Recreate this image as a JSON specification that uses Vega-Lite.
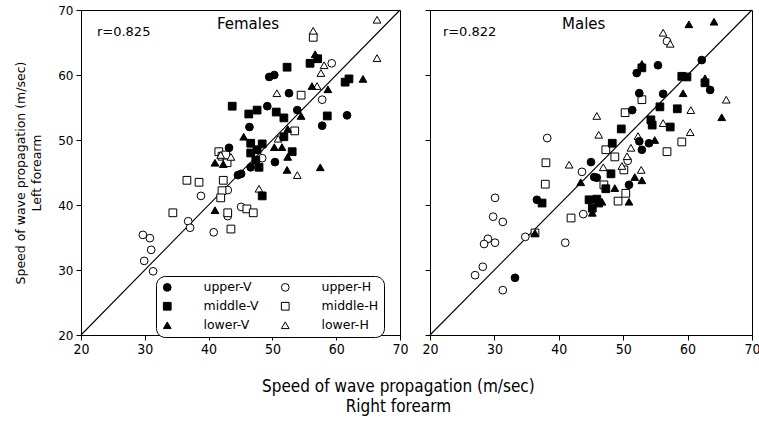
{
  "$schema": "https://vega.github.io/schema/vega-lite/v6.json",
  "background": "white",
  "padding": {"left": 14, "top": 3, "right": 4, "bottom": 4},
  "datasets": {
    "pts": [
      {"sex": "Females", "site": "upper-H", "right": 29.7, "left": 35.4},
      {"sex": "Females", "site": "upper-H", "right": 30.8, "left": 34.9},
      {"sex": "Females", "site": "upper-H", "right": 31.0, "left": 33.1},
      {"sex": "Females", "site": "upper-H", "right": 29.9, "left": 31.4},
      {"sex": "Females", "site": "upper-H", "right": 31.3, "left": 29.8},
      {"sex": "Females", "site": "upper-H", "right": 36.8, "left": 37.5},
      {"sex": "Females", "site": "upper-H", "right": 37.1, "left": 36.5},
      {"sex": "Females", "site": "upper-H", "right": 38.8, "left": 41.4},
      {"sex": "Females", "site": "upper-H", "right": 40.8, "left": 35.8},
      {"sex": "Females", "site": "upper-H", "right": 43.0, "left": 42.3},
      {"sex": "Females", "site": "upper-H", "right": 43.0, "left": 38.3},
      {"sex": "Females", "site": "upper-H", "right": 45.1, "left": 39.7},
      {"sex": "Females", "site": "upper-H", "right": 48.4, "left": 47.2},
      {"sex": "Females", "site": "upper-H", "right": 57.8, "left": 56.2},
      {"sex": "Females", "site": "upper-H", "right": 59.3, "left": 61.8},
      {"sex": "Females", "site": "middle-H", "right": 56.4, "left": 65.8},
      {"sex": "Females", "site": "middle-H", "right": 54.5, "left": 56.9},
      {"sex": "Females", "site": "middle-H", "right": 53.5, "left": 51.4},
      {"sex": "Females", "site": "middle-H", "right": 41.6, "left": 48.2},
      {"sex": "Females", "site": "middle-H", "right": 42.1, "left": 47.5},
      {"sex": "Females", "site": "middle-H", "right": 42.9, "left": 46.5},
      {"sex": "Females", "site": "middle-H", "right": 42.7, "left": 47.7},
      {"sex": "Females", "site": "middle-H", "right": 36.6, "left": 43.8},
      {"sex": "Females", "site": "middle-H", "right": 38.5, "left": 43.5},
      {"sex": "Females", "site": "middle-H", "right": 42.3, "left": 43.8},
      {"sex": "Females", "site": "middle-H", "right": 42.1, "left": 42.2},
      {"sex": "Females", "site": "middle-H", "right": 41.9, "left": 41.1},
      {"sex": "Females", "site": "middle-H", "right": 34.4, "left": 38.8},
      {"sex": "Females", "site": "middle-H", "right": 43.0, "left": 38.8},
      {"sex": "Females", "site": "middle-H", "right": 46.0, "left": 39.4},
      {"sex": "Females", "site": "middle-H", "right": 47.0, "left": 38.8},
      {"sex": "Females", "site": "middle-H", "right": 43.5, "left": 36.3},
      {"sex": "Females", "site": "lower-H", "right": 56.4, "left": 66.8},
      {"sex": "Females", "site": "lower-H", "right": 66.4, "left": 68.5},
      {"sex": "Females", "site": "lower-H", "right": 66.4, "left": 62.6},
      {"sex": "Females", "site": "lower-H", "right": 58.1, "left": 61.5},
      {"sex": "Females", "site": "lower-H", "right": 57.6, "left": 60.3},
      {"sex": "Females", "site": "lower-H", "right": 57.0, "left": 58.3},
      {"sex": "Females", "site": "lower-H", "right": 50.7, "left": 57.2},
      {"sex": "Females", "site": "lower-H", "right": 50.9, "left": 50.2},
      {"sex": "Females", "site": "lower-H", "right": 41.9, "left": 47.7},
      {"sex": "Females", "site": "lower-H", "right": 43.5, "left": 47.4},
      {"sex": "Females", "site": "lower-H", "right": 53.9, "left": 44.6},
      {"sex": "Females", "site": "lower-H", "right": 47.9, "left": 42.5},
      {"sex": "Females", "site": "upper-V", "right": 49.5, "left": 59.7},
      {"sex": "Females", "site": "upper-V", "right": 50.3, "left": 60.0},
      {"sex": "Females", "site": "upper-V", "right": 52.6, "left": 57.2},
      {"sex": "Females", "site": "upper-V", "right": 49.2, "left": 55.2},
      {"sex": "Females", "site": "upper-V", "right": 53.9, "left": 54.6},
      {"sex": "Females", "site": "upper-V", "right": 61.7, "left": 53.8},
      {"sex": "Females", "site": "upper-V", "right": 57.8, "left": 52.2},
      {"sex": "Females", "site": "upper-V", "right": 46.4, "left": 52.0},
      {"sex": "Females", "site": "upper-V", "right": 43.2, "left": 48.8},
      {"sex": "Females", "site": "upper-V", "right": 50.4, "left": 46.6},
      {"sex": "Females", "site": "upper-V", "right": 46.6, "left": 45.8},
      {"sex": "Females", "site": "upper-V", "right": 44.6, "left": 44.6},
      {"sex": "Females", "site": "upper-V", "right": 45.1, "left": 44.8},
      {"sex": "Females", "site": "middle-V", "right": 43.7, "left": 55.2},
      {"sex": "Females", "site": "middle-V", "right": 52.3, "left": 61.2},
      {"sex": "Females", "site": "middle-V", "right": 55.9, "left": 61.8},
      {"sex": "Females", "site": "middle-V", "right": 57.1, "left": 62.5},
      {"sex": "Females", "site": "middle-V", "right": 61.4, "left": 58.9},
      {"sex": "Females", "site": "middle-V", "right": 62.0, "left": 59.4},
      {"sex": "Females", "site": "middle-V", "right": 46.3, "left": 54.0},
      {"sex": "Females", "site": "middle-V", "right": 47.6, "left": 54.6},
      {"sex": "Females", "site": "middle-V", "right": 50.6, "left": 54.3},
      {"sex": "Females", "site": "middle-V", "right": 51.8, "left": 53.4},
      {"sex": "Females", "site": "middle-V", "right": 58.6, "left": 53.7},
      {"sex": "Females", "site": "middle-V", "right": 46.6, "left": 49.5},
      {"sex": "Females", "site": "middle-V", "right": 48.4, "left": 49.4},
      {"sex": "Females", "site": "middle-V", "right": 51.8, "left": 50.5},
      {"sex": "Females", "site": "middle-V", "right": 53.1, "left": 48.2},
      {"sex": "Females", "site": "middle-V", "right": 46.6, "left": 48.0},
      {"sex": "Females", "site": "middle-V", "right": 47.6, "left": 48.5},
      {"sex": "Females", "site": "middle-V", "right": 47.4, "left": 46.9},
      {"sex": "Females", "site": "middle-V", "right": 47.9, "left": 45.8},
      {"sex": "Females", "site": "middle-V", "right": 48.4, "left": 41.4},
      {"sex": "Females", "site": "lower-V", "right": 56.7, "left": 63.2},
      {"sex": "Females", "site": "lower-V", "right": 56.2, "left": 58.3},
      {"sex": "Females", "site": "lower-V", "right": 58.7, "left": 57.8},
      {"sex": "Females", "site": "lower-V", "right": 64.2, "left": 59.4},
      {"sex": "Females", "site": "lower-V", "right": 54.5, "left": 53.7},
      {"sex": "Females", "site": "lower-V", "right": 52.4, "left": 51.7},
      {"sex": "Females", "site": "lower-V", "right": 45.5, "left": 50.5},
      {"sex": "Females", "site": "lower-V", "right": 50.3, "left": 48.9},
      {"sex": "Females", "site": "lower-V", "right": 51.5, "left": 48.9},
      {"sex": "Females", "site": "lower-V", "right": 41.0, "left": 46.5},
      {"sex": "Females", "site": "lower-V", "right": 42.3, "left": 46.3},
      {"sex": "Females", "site": "lower-V", "right": 52.3, "left": 45.4},
      {"sex": "Females", "site": "lower-V", "right": 57.5, "left": 45.8},
      {"sex": "Females", "site": "lower-V", "right": 52.4, "left": 47.4},
      {"sex": "Females", "site": "lower-V", "right": 41.0, "left": 39.2},
      {"sex": "Males", "site": "upper-H", "right": 38.2, "left": 50.3},
      {"sex": "Males", "site": "upper-H", "right": 30.1, "left": 41.1},
      {"sex": "Males", "site": "upper-H", "right": 29.8, "left": 38.2},
      {"sex": "Males", "site": "upper-H", "right": 31.3, "left": 37.4},
      {"sex": "Males", "site": "upper-H", "right": 29.0, "left": 34.8},
      {"sex": "Males", "site": "upper-H", "right": 28.4, "left": 34.0},
      {"sex": "Males", "site": "upper-H", "right": 30.1, "left": 34.2},
      {"sex": "Males", "site": "upper-H", "right": 34.8, "left": 35.1},
      {"sex": "Males", "site": "upper-H", "right": 41.0, "left": 34.2},
      {"sex": "Males", "site": "upper-H", "right": 28.2, "left": 30.5},
      {"sex": "Males", "site": "upper-H", "right": 27.0, "left": 29.2},
      {"sex": "Males", "site": "upper-H", "right": 31.3, "left": 26.9},
      {"sex": "Males", "site": "upper-H", "right": 43.6, "left": 45.1},
      {"sex": "Males", "site": "upper-H", "right": 43.8, "left": 38.6},
      {"sex": "Males", "site": "upper-H", "right": 50.7, "left": 46.8},
      {"sex": "Males", "site": "upper-H", "right": 56.8, "left": 65.2},
      {"sex": "Males", "site": "middle-H", "right": 38.0, "left": 46.5},
      {"sex": "Males", "site": "middle-H", "right": 37.9, "left": 43.2},
      {"sex": "Males", "site": "middle-H", "right": 41.9, "left": 38.0},
      {"sex": "Males", "site": "middle-H", "right": 36.3, "left": 35.7},
      {"sex": "Males", "site": "middle-H", "right": 50.3, "left": 54.2},
      {"sex": "Males", "site": "middle-H", "right": 52.9, "left": 56.2},
      {"sex": "Males", "site": "middle-H", "right": 59.1, "left": 49.7},
      {"sex": "Males", "site": "middle-H", "right": 56.8, "left": 48.2},
      {"sex": "Males", "site": "middle-H", "right": 47.3, "left": 48.5},
      {"sex": "Males", "site": "middle-H", "right": 48.7, "left": 47.4},
      {"sex": "Males", "site": "middle-H", "right": 47.0, "left": 43.1},
      {"sex": "Males", "site": "middle-H", "right": 50.4, "left": 41.8},
      {"sex": "Males", "site": "middle-H", "right": 49.2, "left": 40.6},
      {"sex": "Males", "site": "middle-H", "right": 50.1, "left": 45.4},
      {"sex": "Males", "site": "lower-H", "right": 56.2, "left": 66.5},
      {"sex": "Males", "site": "lower-H", "right": 57.3, "left": 64.8},
      {"sex": "Males", "site": "lower-H", "right": 66.0, "left": 56.2},
      {"sex": "Males", "site": "lower-H", "right": 60.5, "left": 54.6},
      {"sex": "Males", "site": "lower-H", "right": 45.9, "left": 53.7},
      {"sex": "Males", "site": "lower-H", "right": 46.2, "left": 50.8},
      {"sex": "Males", "site": "lower-H", "right": 56.2, "left": 52.6},
      {"sex": "Males", "site": "lower-H", "right": 60.4, "left": 51.2},
      {"sex": "Males", "site": "lower-H", "right": 52.3, "left": 50.6},
      {"sex": "Males", "site": "lower-H", "right": 51.2, "left": 48.8},
      {"sex": "Males", "site": "lower-H", "right": 50.6, "left": 47.5},
      {"sex": "Males", "site": "lower-H", "right": 41.6, "left": 46.2},
      {"sex": "Males", "site": "lower-H", "right": 46.9, "left": 45.8},
      {"sex": "Males", "site": "lower-H", "right": 49.8, "left": 46.0},
      {"sex": "Males", "site": "lower-H", "right": 52.8, "left": 45.4},
      {"sex": "Males", "site": "upper-V", "right": 62.2, "left": 62.3},
      {"sex": "Males", "site": "upper-V", "right": 52.1, "left": 60.3},
      {"sex": "Males", "site": "upper-V", "right": 55.4, "left": 61.5},
      {"sex": "Males", "site": "upper-V", "right": 52.5, "left": 57.2},
      {"sex": "Males", "site": "upper-V", "right": 56.2, "left": 57.1},
      {"sex": "Males", "site": "upper-V", "right": 63.5, "left": 57.7},
      {"sex": "Males", "site": "upper-V", "right": 51.4, "left": 54.6},
      {"sex": "Males", "site": "upper-V", "right": 52.5, "left": 49.8},
      {"sex": "Males", "site": "upper-V", "right": 54.0, "left": 49.5},
      {"sex": "Males", "site": "upper-V", "right": 52.9, "left": 48.5},
      {"sex": "Males", "site": "upper-V", "right": 45.0, "left": 46.6},
      {"sex": "Males", "site": "upper-V", "right": 45.5, "left": 44.3},
      {"sex": "Males", "site": "upper-V", "right": 45.9, "left": 44.2},
      {"sex": "Males", "site": "upper-V", "right": 50.9, "left": 43.1},
      {"sex": "Males", "site": "upper-V", "right": 36.6, "left": 40.8},
      {"sex": "Males", "site": "upper-V", "right": 33.2, "left": 28.8},
      {"sex": "Males", "site": "middle-V", "right": 52.9, "left": 61.1},
      {"sex": "Males", "site": "middle-V", "right": 59.1, "left": 59.8},
      {"sex": "Males", "site": "middle-V", "right": 59.9, "left": 59.7},
      {"sex": "Males", "site": "middle-V", "right": 62.7, "left": 58.8},
      {"sex": "Males", "site": "middle-V", "right": 55.7, "left": 55.1},
      {"sex": "Males", "site": "middle-V", "right": 58.4, "left": 54.8},
      {"sex": "Males", "site": "middle-V", "right": 54.3, "left": 53.1},
      {"sex": "Males", "site": "middle-V", "right": 54.5, "left": 52.3},
      {"sex": "Males", "site": "middle-V", "right": 57.3, "left": 52.0},
      {"sex": "Males", "site": "middle-V", "right": 49.7, "left": 51.7},
      {"sex": "Males", "site": "middle-V", "right": 48.3, "left": 49.5},
      {"sex": "Males", "site": "middle-V", "right": 48.1, "left": 44.8},
      {"sex": "Males", "site": "middle-V", "right": 47.3, "left": 42.5},
      {"sex": "Males", "site": "middle-V", "right": 44.7, "left": 40.8},
      {"sex": "Males", "site": "middle-V", "right": 45.9, "left": 40.9},
      {"sex": "Males", "site": "middle-V", "right": 45.2, "left": 39.5},
      {"sex": "Males", "site": "middle-V", "right": 46.2, "left": 40.3},
      {"sex": "Males", "site": "middle-V", "right": 37.4, "left": 40.3},
      {"sex": "Males", "site": "lower-V", "right": 60.2, "left": 67.8},
      {"sex": "Males", "site": "lower-V", "right": 64.1, "left": 68.2},
      {"sex": "Males", "site": "lower-V", "right": 52.9, "left": 61.7},
      {"sex": "Males", "site": "lower-V", "right": 62.7, "left": 59.5},
      {"sex": "Males", "site": "lower-V", "right": 59.3, "left": 57.2},
      {"sex": "Males", "site": "lower-V", "right": 65.3, "left": 53.5},
      {"sex": "Males", "site": "lower-V", "right": 54.9, "left": 50.0},
      {"sex": "Males", "site": "lower-V", "right": 43.4, "left": 43.5},
      {"sex": "Males", "site": "lower-V", "right": 51.8, "left": 44.3},
      {"sex": "Males", "site": "lower-V", "right": 52.9, "left": 43.8},
      {"sex": "Males", "site": "lower-V", "right": 48.7, "left": 42.6},
      {"sex": "Males", "site": "lower-V", "right": 46.7, "left": 40.5},
      {"sex": "Males", "site": "lower-V", "right": 50.9, "left": 40.5},
      {"sex": "Males", "site": "lower-V", "right": 45.2, "left": 38.8},
      {"sex": "Males", "site": "lower-V", "right": 36.3, "left": 35.7}
    ]
  },
  "hconcat": [
    {
      "width": 319,
      "height": 325,
      "layer": [
        {
          "data": {"values": [{"v": 20}, {"v": 70}]},
          "mark": {"type": "line", "color": "black", "strokeWidth": 1.1},
          "encoding": {
            "x": {"field": "v", "type": "quantitative", "scale": {"domain": [20, 70], "nice": false}},
            "y": {"field": "v", "type": "quantitative", "scale": {"domain": [20, 70], "nice": false}}
          }
        },
        {
          "data": {"name": "pts"},
          "transform": [{"filter": "datum.sex === 'Females'"}],
          "mark": {"type": "point", "size": 60, "strokeWidth": 1, "opacity": 1},
          "encoding": {
            "x": {
              "field": "right", "type": "quantitative",
              "scale": {"domain": [20, 70], "nice": false},
              "axis": {
                "title": null,
                "values": [20, 25, 30, 35, 40, 45, 50, 55, 60, 65, 70],
                "labelExpr": "datum.value % 10 === 0 ? datum.label : ''",
                "tickSize": {"condition": {"test": "datum.value % 10 === 0", "value": 5}, "value": 3},
                "labelFont": "Liberation Sans Narrow, DejaVu Sans Condensed, Liberation Sans",
                "labelFontSize": 14, "labelPadding": 2, "labelFlush": false, "labelOverlap": false
              }
            },
            "y": {
              "field": "left", "type": "quantitative",
              "scale": {"domain": [20, 70], "nice": false},
              "axis": {
                "title": ["Speed of wave propagation (m/sec)", "Left forearm"],
                "titleFont": "DejaVu Sans", "titleFontSize": 12.5, "titleFontWeight": "normal",
                "titlePadding": 14, "titleLineHeight": 16,
                "values": [20, 25, 30, 35, 40, 45, 50, 55, 60, 65, 70],
                "labelExpr": "datum.value % 10 === 0 ? datum.label : ''",
                "tickSize": {"condition": {"test": "datum.value % 10 === 0", "value": 5}, "value": 3},
                "labelFont": "DejaVu Sans", "labelFontSize": 12, "labelPadding": 3,
                "labelFlush": false, "labelOverlap": false
              }
            },
            "shape": {
              "field": "site", "type": "nominal",
              "scale": {
                "domain": ["upper-V", "middle-V", "lower-V", "upper-H", "middle-H", "lower-H"],
                "range": ["circle", "square", "triangle-up", "circle", "square", "triangle-up"]
              },
              "legend": {
                "title": null, "orient": "none", "legendX": 75, "legendY": 266, "columns": 2,
                "strokeColor": "black", "cornerRadius": 9, "padding": 5, "fillColor": "white",
                "labelFont": "DejaVu Sans", "labelFontSize": 12.5, "labelColor": "black",
                "labelOffset": 30, "columnPadding": 20, "rowPadding": 6,
                "symbolSize": 60, "symbolStrokeWidth": 1
              }
            },
            "fill": {
              "field": "site", "type": "nominal",
              "scale": {
                "domain": ["upper-V", "middle-V", "lower-V", "upper-H", "middle-H", "lower-H"],
                "range": ["black", "black", "black", "white", "white", "white"]
              },
              "legend": {
                "title": null, "orient": "none", "legendX": 75, "legendY": 266, "columns": 2,
                "strokeColor": "black", "cornerRadius": 9, "padding": 5, "fillColor": "white",
                "labelFont": "DejaVu Sans", "labelFontSize": 12.5, "labelColor": "black",
                "labelOffset": 30, "columnPadding": 20, "rowPadding": 6,
                "symbolSize": 60, "symbolStrokeWidth": 1
              }
            },
            "stroke": {
              "field": "site", "type": "nominal",
              "scale": {
                "domain": ["upper-V", "middle-V", "lower-V", "upper-H", "middle-H", "lower-H"],
                "range": ["black", "black", "black", "black", "black", "black"]
              },
              "legend": {
                "title": null, "orient": "none", "legendX": 75, "legendY": 266, "columns": 2,
                "strokeColor": "black", "cornerRadius": 9, "padding": 5, "fillColor": "white",
                "labelFont": "DejaVu Sans", "labelFontSize": 12.5, "labelColor": "black",
                "labelOffset": 30, "columnPadding": 20, "rowPadding": 6,
                "symbolSize": 60, "symbolStrokeWidth": 1
              }
            }
          }
        },
        {
          "data": {"values": [{}]},
          "mark": {"type": "text", "text": "r=0.825", "align": "left", "baseline": "middle", "font": "DejaVu Sans", "fontSize": 13, "color": "black"},
          "encoding": {"x": {"datum": 22.5, "type": "quantitative"}, "y": {"datum": 66.6, "type": "quantitative"}}
        },
        {
          "data": {"values": [{}]},
          "mark": {"type": "text", "text": "Females", "align": "left", "baseline": "middle", "font": "DejaVu Sans", "fontSize": 15, "color": "black"},
          "encoding": {"x": {"datum": 41.3, "type": "quantitative"}, "y": {"datum": 67.8, "type": "quantitative"}}
        }
      ]
    },
    {
      "width": 322,
      "height": 325,
      "layer": [
        {
          "data": {"values": [{"v": 20}, {"v": 70}]},
          "mark": {"type": "line", "color": "black", "strokeWidth": 1.1},
          "encoding": {
            "x": {"field": "v", "type": "quantitative", "scale": {"domain": [20, 70], "nice": false}},
            "y": {"field": "v", "type": "quantitative", "scale": {"domain": [20, 70], "nice": false}}
          }
        },
        {
          "data": {"name": "pts"},
          "transform": [{"filter": "datum.sex === 'Males'"}],
          "mark": {"type": "point", "size": 60, "strokeWidth": 1, "opacity": 1},
          "encoding": {
            "x": {
              "field": "right", "type": "quantitative",
              "scale": {"domain": [20, 70], "nice": false},
              "axis": {
                "title": null,
                "values": [20, 25, 30, 35, 40, 45, 50, 55, 60, 65, 70],
                "labelExpr": "datum.value % 10 === 0 ? datum.label : ''",
                "tickSize": {"condition": {"test": "datum.value % 10 === 0", "value": 5}, "value": 3},
                "labelFont": "Liberation Sans Narrow, DejaVu Sans Condensed, Liberation Sans",
                "labelFontSize": 14, "labelPadding": 2, "labelFlush": false, "labelOverlap": false
              }
            },
            "y": {
              "field": "left", "type": "quantitative",
              "scale": {"domain": [20, 70], "nice": false},
              "axis": {
                "title": null, "labels": false,
                "values": [20, 25, 30, 35, 40, 45, 50, 55, 60, 65, 70],
                "tickSize": {"condition": {"test": "datum.value % 10 === 0", "value": 5}, "value": 3}
              }
            },
            "shape": {
              "field": "site", "type": "nominal",
              "scale": {
                "domain": ["upper-V", "middle-V", "lower-V", "upper-H", "middle-H", "lower-H"],
                "range": ["circle", "square", "triangle-up", "circle", "square", "triangle-up"]
              },
              "legend": null
            },
            "fill": {
              "field": "site", "type": "nominal",
              "scale": {
                "domain": ["upper-V", "middle-V", "lower-V", "upper-H", "middle-H", "lower-H"],
                "range": ["black", "black", "black", "white", "white", "white"]
              },
              "legend": null
            },
            "stroke": {
              "field": "site", "type": "nominal",
              "scale": {
                "domain": ["upper-V", "middle-V", "lower-V", "upper-H", "middle-H", "lower-H"],
                "range": ["black", "black", "black", "black", "black", "black"]
              },
              "legend": null
            }
          }
        },
        {
          "data": {"values": [{}]},
          "mark": {"type": "text", "text": "r=0.822", "align": "left", "baseline": "middle", "font": "DejaVu Sans", "fontSize": 13, "color": "black"},
          "encoding": {"x": {"datum": 22.0, "type": "quantitative"}, "y": {"datum": 66.6, "type": "quantitative"}}
        },
        {
          "data": {"values": [{}]},
          "mark": {"type": "text", "text": "Males", "align": "left", "baseline": "middle", "font": "DejaVu Sans", "fontSize": 15, "color": "black"},
          "encoding": {"x": {"datum": 40.5, "type": "quantitative"}, "y": {"datum": 67.8, "type": "quantitative"}}
        }
      ]
    }
  ],
  "spacing": 30,
  "bounds": "flush",
  "resolve": {
    "scale": {"shape": "independent", "fill": "independent", "stroke": "independent"},
    "legend": {"shape": "independent", "fill": "independent", "stroke": "independent"}
  },
  "title": {
    "text": ["Speed of wave propagation (m/sec)", "Right forearm"],
    "orient": "bottom", "anchor": "middle", "offset": 22, "dx": 11,
    "font": "Liberation Sans Narrow, DejaVu Sans Condensed, Liberation Sans",
    "fontSize": 17, "fontWeight": "normal", "lineHeight": 20, "color": "black"
  },
  "config": {
    "view": {"stroke": "black", "strokeWidth": 1},
    "axis": {
      "grid": false, "domainColor": "black", "domainWidth": 1,
      "tickColor": "black", "tickWidth": 1, "labelColor": "black", "titleColor": "black"
    }
  }
}
